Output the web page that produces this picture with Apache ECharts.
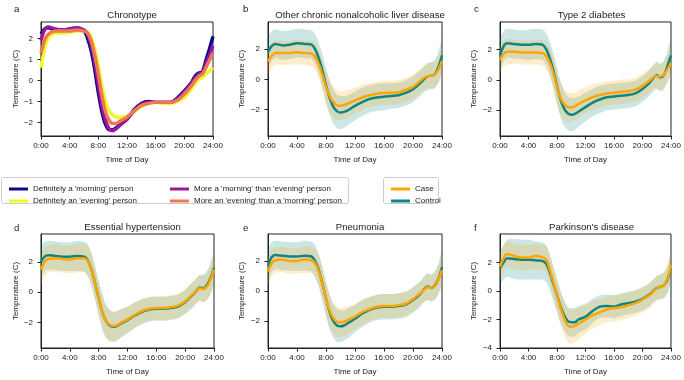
<!DOCTYPE html>
<html>
<head>
<meta charset="utf-8">
<script src="https://cdn.jsdelivr.net/npm/echarts@6.0.0/dist/echarts.min.js"></script>
<style>
html,body{margin:0;padding:0;background:#fff}
#main{width:684px;height:380px}
</style>
</head>
<body>
<div id="main"></div>
<script>
// time of day (hours) shared by every curve
const hours = [0,0.5,1,2,3,4,5,6,6.5,7,7.5,8,8.5,9,9.5,10,10.5,11,12,13,14,15,16,17,18,19,20,21,21.5,22,22.5,23,23.5,24];

// panel a - chronotype
const morningDef = [2.2,2.45,2.5,2.4,2.4,2.45,2.5,2.35,2.0,1.4,0.5,-0.6,-1.5,-2.1,-2.35,-2.35,-2.25,-2.1,-1.85,-1.4,-1.1,-1.0,-1.05,-1.05,-1.05,-0.85,-0.5,-0.1,0.2,0.35,0.4,0.95,1.5,2.1];
const eveningDef = [0.6,1.5,2.0,2.25,2.25,2.3,2.35,2.35,2.3,2.05,1.5,0.7,-0.3,-1.0,-1.45,-1.65,-1.75,-1.75,-1.7,-1.5,-1.25,-1.1,-1.05,-1.1,-1.1,-1.0,-0.8,-0.4,-0.15,0.05,0.15,0.3,0.45,0.6];
const moreMorning = [1.9,2.4,2.55,2.45,2.4,2.45,2.5,2.4,2.2,1.7,0.9,-0.2,-1.2,-1.9,-2.3,-2.4,-2.3,-2.15,-1.85,-1.45,-1.15,-1.05,-1.05,-1.05,-1.05,-0.9,-0.55,-0.15,0.1,0.3,0.35,0.8,1.2,1.65];
const moreEvening = [1.3,1.9,2.2,2.35,2.35,2.35,2.4,2.35,2.25,1.9,1.2,0.3,-0.7,-1.5,-1.9,-2.05,-2.05,-1.95,-1.75,-1.45,-1.2,-1.1,-1.05,-1.05,-1.05,-0.95,-0.65,-0.25,0.0,0.2,0.3,0.6,0.95,1.3];
const chronoNames = ["Definitely a 'morning' person","Definitely an 'evening' person","More a 'morning' than 'evening' person","More an 'evening' than a 'morning' person"];

// panel b - liver disease
const liverCtrl = [1.8,2.2,2.35,2.25,2.3,2.4,2.35,2.3,2.0,1.4,0.6,-0.4,-1.2,-1.8,-2.1,-2.2,-2.15,-2.05,-1.75,-1.5,-1.3,-1.2,-1.15,-1.1,-1.05,-0.9,-0.65,-0.25,0.0,0.2,0.25,0.35,0.8,1.6];
const liverCase = [1.2,1.55,1.75,1.75,1.75,1.8,1.75,1.7,1.5,1.0,0.3,-0.5,-1.1,-1.5,-1.7,-1.75,-1.7,-1.6,-1.4,-1.2,-1.05,-0.95,-0.9,-0.88,-0.85,-0.7,-0.5,-0.1,0.1,0.2,0.25,0.35,0.65,1.2];
const liverCtrlSd = [1.0,1.0,0.95,0.95,0.95,0.95,0.95,0.95,1.0,1.05,1.1,1.15,1.15,1.15,1.1,1.1,1.05,1.0,0.95,0.95,0.9,0.9,0.9,0.85,0.85,0.85,0.85,0.85,0.85,0.9,0.9,0.95,1.0,1.1];
const liverCaseSd = [0.85,0.85,0.8,0.8,0.8,0.8,0.8,0.85,0.9,0.95,1.0,1.05,1.05,1.0,1.0,0.95,0.95,0.9,0.85,0.85,0.8,0.8,0.8,0.8,0.8,0.8,0.8,0.8,0.8,0.8,0.85,0.85,0.9,1.0];

// panel c - type 2 diabetes
const diabCtrl = [1.6,2.2,2.4,2.35,2.3,2.3,2.35,2.3,2.0,1.4,0.6,-0.4,-1.3,-1.9,-2.2,-2.3,-2.25,-2.1,-1.8,-1.5,-1.3,-1.15,-1.1,-1.05,-1.0,-0.9,-0.6,-0.2,0.1,0.3,0.15,0.3,0.9,1.6];
const diabCase = [1.3,1.7,1.85,1.85,1.8,1.8,1.8,1.75,1.55,1.1,0.4,-0.5,-1.2,-1.6,-1.8,-1.82,-1.75,-1.6,-1.35,-1.15,-1.0,-0.9,-0.85,-0.8,-0.75,-0.65,-0.4,-0.05,0.15,0.25,0.2,0.35,0.7,1.1];
const diabCtrlSd = [1.0,1.0,0.95,0.95,0.95,1.0,1.0,1.0,1.05,1.1,1.15,1.2,1.2,1.15,1.1,1.1,1.05,1.0,0.95,0.9,0.9,0.85,0.85,0.85,0.85,0.85,0.85,0.85,0.85,0.9,0.9,0.95,1.0,1.1];
const diabCaseSd = [0.9,0.85,0.85,0.8,0.8,0.8,0.8,0.85,0.9,0.95,1.0,1.05,1.05,1.0,1.0,0.95,0.9,0.9,0.85,0.85,0.8,0.8,0.8,0.8,0.8,0.8,0.8,0.8,0.8,0.8,0.85,0.85,0.9,1.0];

// panel d - essential hypertension
const hypCtrl = [2.0,2.35,2.45,2.4,2.35,2.35,2.4,2.35,2.1,1.5,0.6,-0.4,-1.3,-1.9,-2.2,-2.3,-2.25,-2.1,-1.85,-1.55,-1.3,-1.15,-1.1,-1.1,-1.05,-0.95,-0.65,-0.2,0.05,0.3,0.25,0.45,0.9,1.6];
const hypCase = [1.5,2.0,2.2,2.25,2.2,2.15,2.25,2.25,2.05,1.5,0.6,-0.4,-1.3,-1.9,-2.15,-2.25,-2.2,-2.05,-1.8,-1.5,-1.25,-1.1,-1.05,-1.05,-1.0,-0.9,-0.6,-0.15,0.05,0.25,0.2,0.35,0.8,1.5];
const hypCtrlSd = [1.0,1.0,0.95,0.95,0.95,0.95,1.0,1.0,1.05,1.1,1.1,1.15,1.15,1.1,1.05,1.0,1.0,0.95,0.9,0.85,0.85,0.8,0.8,0.8,0.8,0.8,0.8,0.85,0.85,0.85,0.9,0.95,1.0,1.05];
const hypCaseSd = [0.95,0.95,0.9,0.9,0.9,0.9,0.95,0.95,1.0,1.05,1.1,1.1,1.1,1.05,1.0,0.95,0.95,0.9,0.85,0.85,0.8,0.8,0.8,0.8,0.8,0.8,0.8,0.8,0.8,0.85,0.85,0.9,0.95,1.0];

// panel e - pneumonia
const pneuCtrl = [1.7,2.25,2.4,2.35,2.3,2.3,2.35,2.3,2.0,1.4,0.5,-0.5,-1.4,-2.0,-2.3,-2.35,-2.3,-2.15,-1.85,-1.5,-1.25,-1.1,-1.05,-1.05,-1.0,-0.9,-0.6,-0.2,0.1,0.3,0.2,0.35,0.8,1.6];
const pneuCase = [1.3,1.85,2.05,2.1,2.0,2.0,2.1,2.05,1.85,1.3,0.5,-0.5,-1.3,-1.8,-2.05,-2.1,-2.05,-1.95,-1.7,-1.4,-1.2,-1.05,-1.0,-1.0,-0.95,-0.85,-0.55,-0.15,0.05,0.25,0.2,0.3,0.75,1.4];
const pneuCtrlSd = [1.0,1.0,0.95,0.95,0.95,0.95,1.0,1.0,1.05,1.1,1.15,1.15,1.15,1.1,1.1,1.05,1.0,1.0,0.9,0.9,0.85,0.85,0.85,0.85,0.85,0.85,0.85,0.85,0.85,0.9,0.9,0.95,1.0,1.1];
const pneuCaseSd = [0.9,0.9,0.85,0.85,0.85,0.85,0.9,0.9,0.95,1.0,1.05,1.1,1.1,1.05,1.0,0.95,0.95,0.9,0.85,0.85,0.8,0.8,0.8,0.8,0.8,0.8,0.8,0.8,0.8,0.85,0.85,0.9,0.95,1.0];

// panel f - parkinson's
const parkCtrl = [1.6,2.0,2.3,2.25,2.2,2.2,2.15,2.1,1.9,1.3,0.5,-0.3,-1.1,-1.7,-2.1,-2.2,-2.2,-2.0,-1.8,-1.4,-1.1,-1.05,-1.1,-0.95,-0.85,-0.75,-0.55,-0.25,0.0,0.2,0.3,0.4,0.8,1.7];
const parkCase = [1.7,2.3,2.6,2.45,2.35,2.35,2.45,2.35,2.2,1.5,0.6,-0.3,-1.2,-1.9,-2.4,-2.5,-2.45,-2.3,-2.0,-1.7,-1.5,-1.3,-1.2,-1.15,-1.0,-0.85,-0.6,-0.3,-0.05,0.2,0.3,0.4,0.9,1.8];
const parkCtrlSd = [1.1,1.2,1.3,1.4,1.4,1.4,1.35,1.3,1.3,1.25,1.2,1.15,1.1,1.05,1.0,1.0,1.0,0.95,0.9,0.85,0.8,0.8,0.8,0.8,0.8,0.8,0.8,0.8,0.8,0.85,0.85,0.9,0.95,1.0];
const parkCaseSd = [0.9,0.9,0.9,0.9,0.9,0.9,0.9,0.9,0.95,1.0,1.1,1.15,1.2,1.2,1.2,1.2,1.15,1.1,1.0,0.95,0.9,0.9,0.9,0.9,0.9,0.9,0.9,0.9,0.85,0.85,0.9,0.9,0.95,1.0];

const titles = ['Chronotype','Other chronic nonalcoholic liver disease','Type 2 diabetes','Essential hypertension','Pneumonia',"Parkinson's disease"];
const letters = ['a','b','c','d','e','f'];
const yRanges = [[-2.65,2.78],[-3.75,3.8],[-3.7,3.8],[-3.7,3.85],[-3.8,3.8],[-4,4]];
const yTicks = [[-2,-1,0,1,2],[-2,0,2],[-2,0,2],[-2,0,2],[-2,0,2],[-4,-2,0,2]];

const FONT = 'Liberation Sans';
const INK = '#222';
const chronoColors = ['#0d0887','#f0f921','#9c179e','#ed7953'];
const CASE = '#ffa500', CTRL = '#0e8584';

const grids = [
  {left:41, top:22, width:172, height:114},
  {left:268, top:22, width:174, height:114},
  {left:500, top:22, width:173, height:114},
  {left:41, top:234, width:173, height:114},
  {left:268, top:234, width:174, height:114},
  {left:500, top:234, width:173, height:114}
];

const minus = v => v < 0 ? '\u2212' + Math.abs(v) : String(v);

const xAxes = grids.map((g, i) => ({
  gridIndex: i, type: 'value', min: 0, max: 24, interval: 4,
  axisLine: {show: true, onZero: false, lineStyle: {color: INK, width: 1}},
  axisTick: {show: true, length: 3.5, lineStyle: {color: INK}},
  axisLabel: {formatter: v => v + ':00', fontSize: 8, color: INK, fontFamily: FONT, margin: 6},
  splitLine: {show: false},
  name: 'Time of Day', nameLocation: 'middle', nameGap: 20,
  nameTextStyle: {fontSize: 8, color: INK, fontFamily: FONT}
}));

const yAxes = grids.map((g, i) => ({
  gridIndex: i, type: 'value', min: yRanges[i][0], max: yRanges[i][1],
  axisLine: {show: true, onZero: false, lineStyle: {color: INK, width: 1}},
  axisTick: {show: true, length: 3.5, lineStyle: {color: INK}, customValues: yTicks[i]},
  axisLabel: {formatter: minus, fontSize: 8, color: INK, fontFamily: FONT, margin: 8, customValues: yTicks[i]},
  splitLine: {show: false},
  name: 'Temperature (C)', nameLocation: 'middle', nameGap: i % 3 === 0 ? 20 : 22,
  nameTextStyle: {fontSize: 8, color: INK, fontFamily: FONT}
}));

const series = [];

// chronotype lines
[morningDef, eveningDef, moreMorning, moreEvening].forEach((arr, k) => {
  series.push({
    type: 'line', name: chronoNames[k], xAxisIndex: 0, yAxisIndex: 0,
    data: hours.map((h, j) => [h, arr[j]]), symbol: 'none', smooth: 0.3,
    lineStyle: {color: chronoColors[k], width: 3.4}, itemStyle: {color: chronoColors[k]}, z: 3
  });
});

// shaded band (mean +/- sd) drawn as one polygon through the axis scales
function band(i, mean, sd, color) {
  series.push({
    type: 'custom', coordinateSystem: 'cartesian2d', xAxisIndex: i, yAxisIndex: i,
    data: [[0, 0]], silent: true, z: 1,
    renderItem: (params, api) => {
      const upper = hours.map((h, j) => api.coord([h, mean[j] + sd[j]]));
      const lower = hours.map((h, j) => api.coord([h, mean[j] - sd[j]])).reverse();
      return {type: 'polygon', shape: {points: upper.concat(lower), smooth: 0.25}, style: {fill: color}};
    }
  });
}

const groups = [
  [liverCase, liverCtrl, liverCaseSd, liverCtrlSd],
  [diabCase, diabCtrl, diabCaseSd, diabCtrlSd],
  [hypCase, hypCtrl, hypCaseSd, hypCtrlSd],
  [pneuCase, pneuCtrl, pneuCaseSd, pneuCtrlSd],
  [parkCase, parkCtrl, parkCaseSd, parkCtrlSd]
];

groups.forEach(([cs, ct, csSd, ctSd], n) => {
  const i = n + 1;
  band(i, ct, ctSd, 'rgba(0,128,128,0.2)');
  band(i, cs, csSd, 'rgba(255,165,0,0.2)');
  series.push({
    type: 'line', name: 'Control', xAxisIndex: i, yAxisIndex: i,
    data: hours.map((h, j) => [h, ct[j]]), symbol: 'none', smooth: 0.3,
    lineStyle: {color: CTRL, width: 2.5}, itemStyle: {color: CTRL}, z: 3
  });
  series.push({
    type: 'line', name: 'Case', xAxisIndex: i, yAxisIndex: i,
    data: hours.map((h, j) => [h, cs[j]]), symbol: 'none', smooth: 0.3,
    lineStyle: {color: CASE, width: 2.5}, itemStyle: {color: CASE}, z: 4
  });
});

const titleList = [];
grids.forEach((g, i) => {
  const row = i < 3 ? 0 : 1;
  titleList.push({
    text: titles[i], left: g.left + g.width / 2, textAlign: 'center', top: row ? 217 : 5,
    textStyle: {fontSize: 9.6, fontWeight: 'normal', color: INK, fontFamily: FONT}
  });
  titleList.push({
    text: letters[i], left: [9, 238, 469][i % 3], top: row ? 218 : -1,
    textStyle: {fontSize: 9.6, fontWeight: 'normal', color: INK, fontFamily: FONT}
  });
});

const legendBase = {
  orient: 'vertical', icon: 'rect', itemWidth: 19, itemHeight: 3, itemGap: 2, top: 179,
  textStyle: {fontSize: 8, color: INK, fontFamily: FONT, lineHeight: 10}, selectedMode: false
};

const chart = echarts.init(document.getElementById('main'), null, {renderer: 'canvas'});
chart.setOption({
  animation: false,
  backgroundColor: '#fff',
  title: titleList,
  grid: grids.map(g => Object.assign({show: true, borderColor: INK, borderWidth: 1, backgroundColor: 'transparent'}, g)),
  xAxis: xAxes,
  yAxis: yAxes,
  legend: [
    Object.assign({}, legendBase, {left: 4, data: [chronoNames[0], chronoNames[1]]}),
    Object.assign({}, legendBase, {left: 165, data: [chronoNames[2], chronoNames[3]]}),
    Object.assign({}, legendBase, {left: 386, data: ['Case', 'Control']})
  ],
  graphic: [
    {type: 'rect', shape: {x: 1.5, y: 177.5, width: 347, height: 26, r: 2}, style: {fill: 'none', stroke: '#ccc', lineWidth: 1}},
    {type: 'rect', shape: {x: 383.5, y: 177.5, width: 55, height: 26, r: 2}, style: {fill: 'none', stroke: '#ccc', lineWidth: 1}}
  ],
  series
});
</script>
</body>
</html>
